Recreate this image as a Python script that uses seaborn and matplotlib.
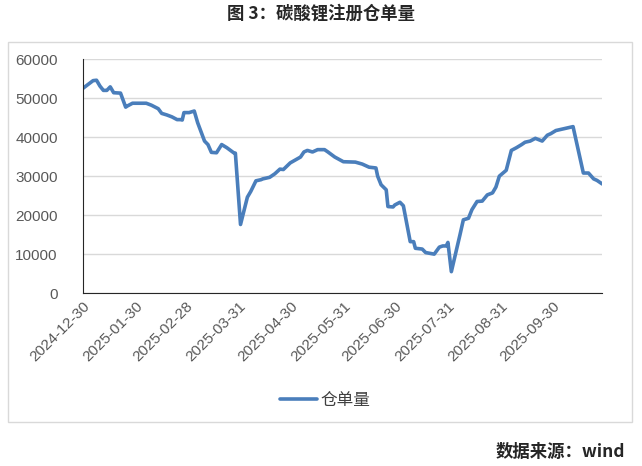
import pandas as pd
import numpy as np
import matplotlib
matplotlib.use('Agg')
import matplotlib.pyplot as plt
import matplotlib.dates as mdates
from matplotlib.patches import Rectangle
import seaborn as sns

sns.set_style('white')
plt.rcParams['font.family'] = ['Liberation Sans', 'Noto Sans CJK SC', 'DejaVu Sans']

dates = ['2024-12-30', '2025-01-05', '2025-01-07', '2025-01-09', '2025-01-11', '2025-01-13',
         '2025-01-15', '2025-01-17', '2025-01-21', '2025-01-24', '2025-01-25', '2025-01-28',
         '2025-02-05', '2025-02-08', '2025-02-12', '2025-02-14', '2025-02-17', '2025-02-20',
         '2025-02-23', '2025-02-25', '2025-02-26', '2025-02-27', '2025-03-02', '2025-03-05',
         '2025-03-07', '2025-03-11', '2025-03-13', '2025-03-15', '2025-03-18', '2025-03-21',
         '2025-03-24', '2025-03-28', '2025-03-29', '2025-04-01', '2025-04-05', '2025-04-07',
         '2025-04-10', '2025-04-13', '2025-04-14', '2025-04-18', '2025-04-21', '2025-04-24',
         '2025-04-26', '2025-04-30', '2025-05-06', '2025-05-08', '2025-05-10', '2025-05-13',
         '2025-05-16', '2025-05-20', '2025-05-22', '2025-05-26', '2025-05-31', '2025-06-07',
         '2025-06-11', '2025-06-15', '2025-06-19', '2025-06-20', '2025-06-22', '2025-06-25',
         '2025-06-26', '2025-06-29', '2025-06-30', '2025-07-03', '2025-07-05', '2025-07-09',
         '2025-07-11', '2025-07-12', '2025-07-16', '2025-07-18', '2025-07-23', '2025-07-26',
         '2025-07-28', '2025-07-30', '2025-07-31', '2025-08-02', '2025-08-07', '2025-08-09',
         '2025-08-12', '2025-08-14', '2025-08-17', '2025-08-20', '2025-08-23', '2025-08-26',
         '2025-08-28', '2025-08-30', '2025-09-03', '2025-09-06', '2025-09-09', '2025-09-12',
         '2025-09-14', '2025-09-17', '2025-09-20', '2025-09-24', '2025-09-27', '2025-09-29',
         '2025-10-02', '2025-10-07', '2025-10-12', '2025-10-18', '2025-10-21', '2025-10-24',
         '2025-10-26', '2025-10-29']
values = [52500, 54500, 54600, 53100, 52000, 52000,
          52900, 51400, 51300, 47700, 48000, 48700,
          48700, 48200, 47300, 46100, 45700, 45200,
          44500, 44500, 44400, 46300, 46300, 46700,
          43700, 39000, 38100, 36100, 36000, 38100,
          37300, 36000, 35900, 17600, 24600, 26100,
          28800, 29100, 29300, 29700, 30600, 31800,
          31700, 33400, 34900, 36200, 36600, 36200,
          36800, 36800, 36200, 34900, 33700, 33600,
          33100, 32300, 32100, 30000, 27800, 26500,
          22200, 22100, 22600, 23300, 22400, 13200,
          13200, 11500, 11300, 10400, 10000, 11800,
          12100, 12100, 13000, 5500, 14900, 18800,
          19200, 21400, 23500, 23600, 25200, 25700,
          27200, 30000, 31500, 36600, 37300, 38100,
          38700, 39000, 39700, 39000, 40500, 40900,
          41700, 42200, 42700, 30800, 30800, 29300,
          28900, 28000]
tick_dates = ['2024-12-30', '2025-01-30', '2025-02-28', '2025-03-31', '2025-04-30',
              '2025-05-31', '2025-06-30', '2025-07-31', '2025-08-31', '2025-09-30']
y_ticks = [0, 10000, 20000, 30000, 40000, 50000, 60000]

df = pd.DataFrame({'date': pd.to_datetime(dates), '仓单量': values})

fig = plt.figure(figsize=(6.42, 4.66), dpi=100)
ax = fig.add_axes([0.129, 0.371, 0.809, 0.502])

# chart frame
fig.patches.append(Rectangle((8 / 642, 1 - 422 / 466), 624 / 642, 380 / 466,
                             transform=fig.transFigure, fill=False,
                             edgecolor='#D9D9D9', linewidth=1))

sns.lineplot(data=df, x='date', y='仓单量', ax=ax, color='#4A7EBB', linewidth=2.6,
             label='仓单量', legend=False)

ax.set_ylim(0, 60000)
ax.set_yticks(y_ticks)
ax.set_xlim(df['date'].iloc[0], df['date'].iloc[-1])
ax.set_xticks(pd.to_datetime(tick_dates))
ax.xaxis.set_major_formatter(mdates.DateFormatter('%Y-%m-%d'))
ax.set_xlabel('')
ax.set_ylabel('')

ax.grid(axis='y', color='#D9D9D9', linewidth=1)
ax.set_axisbelow(True)
for s in ['top', 'right']:
    ax.spines[s].set_visible(False)
ax.spines['left'].set_color('#262626')
ax.spines['bottom'].set_color('#262626')
ax.tick_params(axis='y', direction='in', length=4, color='#404040', labelsize=11,
               labelcolor='#595959', pad=18)
ax.tick_params(axis='x', length=0, labelsize=11, labelcolor='#595959', pad=4)
for lbl in ax.get_xticklabels():
    lbl.set_rotation(45)
    lbl.set_ha('right')
    lbl.set_rotation_mode('anchor')

fig.legend(handles=ax.get_lines()[:1], labels=['仓单量'], loc='center',
           bbox_to_anchor=(325 / 642, 1 - 400 / 466), frameon=False, handlelength=2.2,
           handletextpad=0.2, prop={'family': 'Noto Sans CJK SC', 'size': 12})
for t in fig.legends[0].get_texts():
    t.set_color('#404040')

fig.text(0.5, 1 - 14 / 466, '图 3：碳酸锂注册仓单量', ha='center', va='center',
         fontsize=12.5, fontweight='bold', family=['Noto Sans CJK SC', 'DejaVu Sans'])
fig.text(625 / 642, 1 - 452 / 466, '数据来源：wind', ha='right', va='center',
         fontsize=12.5, fontweight='bold', family=['Noto Sans CJK SC', 'DejaVu Sans'])

fig.savefig('out.png', dpi=100)
